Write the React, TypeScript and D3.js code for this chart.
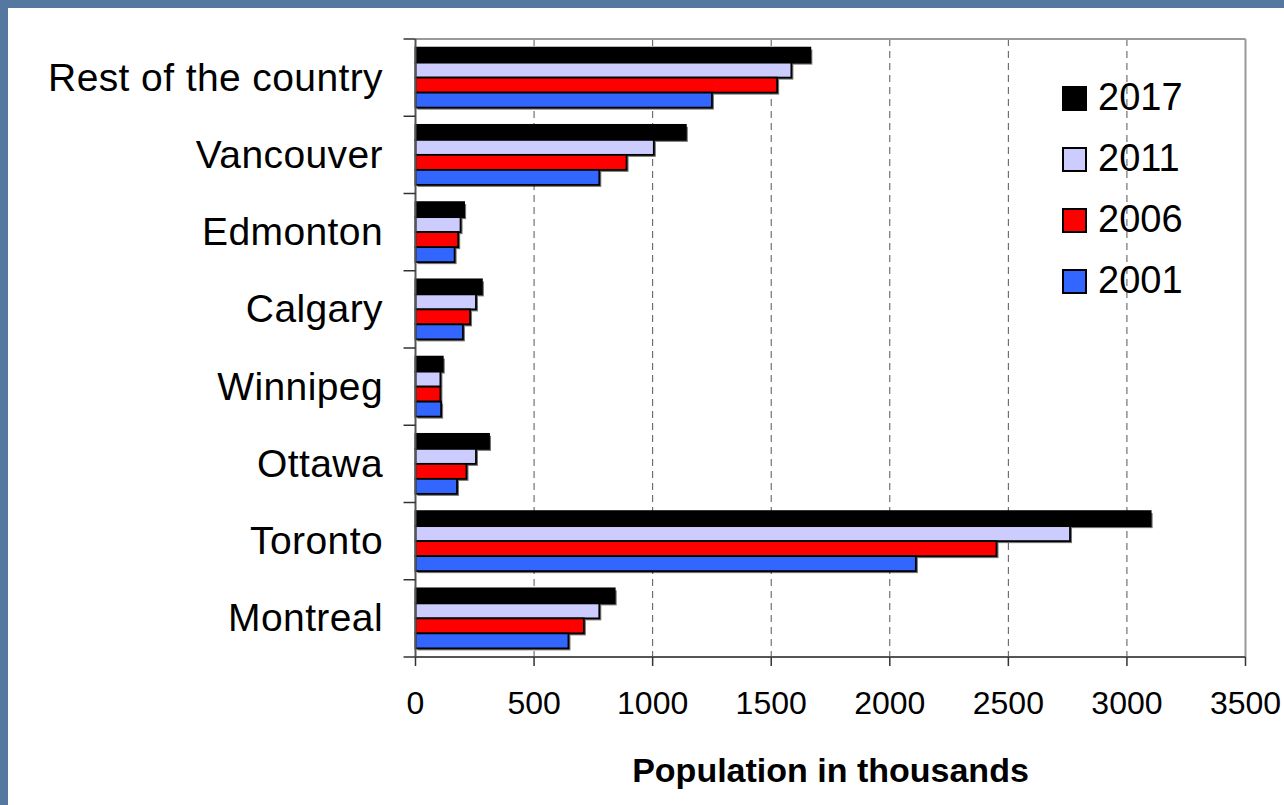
import * as React from 'react'
import { scaleBand, scaleLinear, range } from 'd3'

const categories = ['Rest of the country', 'Vancouver', 'Edmonton', 'Calgary', 'Winnipeg', 'Ottawa', 'Toronto', 'Montreal']
const years = ['2017', '2011', '2006', '2001']
const yearColors = ['#000000', '#ccccff', '#ff0000', '#3366ff']

const values2017 = [1665, 1140, 205, 280, 115, 310, 3100, 840]
const values2011 = [1585, 1005, 190, 255, 105, 255, 2760, 775]
const values2006 = [1525, 890, 180, 230, 105, 215, 2450, 710]
const values2001 = [1250, 775, 165, 200, 108, 175, 2110, 645]
const seriesValues = [values2017, values2011, values2006, values2001]

const xTicks = [0, 500, 1000, 1500, 2000, 2500, 3000, 3500]
const xTitle = 'Population in thousands'

const font = '"Liberation Sans", Arial, sans-serif'

function App() {
  const width = 1284
  const height = 805
  const plot = { left: 415.5, right: 1245.5, top: 39, bottom: 657 }

  const x = scaleLinear().domain([0, 3500]).range([plot.left, plot.right])
  const y = scaleBand<string>().domain(categories).range([plot.top, plot.bottom]).padding(0)
  const inner = scaleBand<string>().domain(years).range([0, y.bandwidth()]).paddingInner(0).paddingOuter(0.575)
  const boundaries = range(categories.length + 1).map((i) => plot.top + i * y.step())

  return (
    <svg width={width} height={height} style={{ position: 'absolute', left: 0, top: 0 }} fontFamily={font}>
      <rect x={0} y={0} width={width} height={height} fill="#5578a0" />
      <rect x={8} y={8} width={width - 8} height={height - 8} fill="#ffffff" />

      {/* grid */}
      {xTicks.slice(1, -1).map((t) => (
        <line key={t} x1={x(t)} x2={x(t)} y1={plot.top} y2={plot.bottom} stroke="#555" strokeWidth={1} strokeDasharray="7,5" />
      ))}

      {/* plot frame (top and right) */}
      <line x1={plot.left} x2={plot.right} y1={plot.top} y2={plot.top} stroke="#999" strokeWidth={2} />
      <line x1={plot.right} x2={plot.right} y1={plot.top} y2={plot.bottom} stroke="#999" strokeWidth={2} />

      {/* bars */}
      {categories.map((c, ci) => (
        <g key={c} transform={`translate(0,${y(c)})`}>
          {years.map((yr, si) => {
            const v = seriesValues[si][ci]
            const by = inner(yr) as number
            const bw = x(v) - x(0)
            const bh = inner.bandwidth()
            return (
              <g key={yr}>
                <rect x={x(0) + 2} y={by + 2} width={bw} height={bh} fill="#000" opacity={0.55} />
                <rect x={x(0)} y={by} width={bw} height={bh} fill={yearColors[si]} stroke="#000" strokeWidth={1.8} />
              </g>
            )
          })}
        </g>
      ))}

      {/* y axis */}
      <line x1={plot.left} x2={plot.left} y1={plot.top} y2={plot.bottom} stroke="#555" strokeWidth={2} />
      {boundaries.map((b, i) => (
        <line key={i} x1={plot.left - 12} x2={plot.left} y1={b} y2={b} stroke="#333" strokeWidth={1.5} />
      ))}
      {categories.map((c) => (
        <text key={c} x={383} y={(y(c) as number) + y.bandwidth() / 2 + 13} textAnchor="end" fontSize={39} letterSpacing={0.4} fill="#000">
          {c}
        </text>
      ))}

      {/* x axis */}
      <line x1={plot.left} x2={plot.right} y1={plot.bottom} y2={plot.bottom} stroke="#555" strokeWidth={2} />
      {xTicks.map((t) => (
        <g key={t}>
          <line x1={x(t)} x2={x(t)} y1={plot.bottom} y2={plot.bottom + 9} stroke="#333" strokeWidth={1.5} />
          <text x={x(t)} y={714} textAnchor="middle" fontSize={32} fill="#000">
            {t}
          </text>
        </g>
      ))}
      <text x={(plot.left + plot.right) / 2} y={782} textAnchor="middle" fontSize={34} fontWeight="bold" fill="#000">
        {xTitle}
      </text>

      {/* legend */}
      {years.map((yr, i) => (
        <g key={yr} transform={`translate(1063,${87 + i * 61})`}>
          <rect x={0} y={0} width={23} height={23} fill={yearColors[i]} stroke="#000" strokeWidth={2} />
          <text x={35} y={23} fontSize={38} fill="#000">
            {yr}
          </text>
        </g>
      ))}
    </svg>
  )
}

export default App
